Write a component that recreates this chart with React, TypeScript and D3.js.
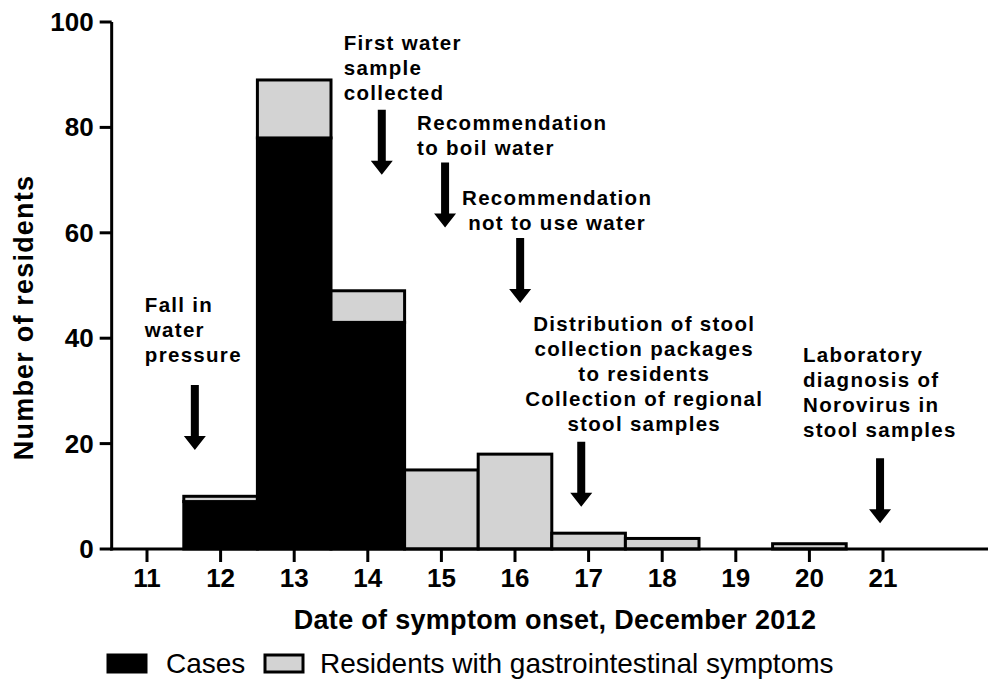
import React from "react";
import * as d3 from "d3";

// symptom onset, December 2012
const days = [11, 12, 13, 14, 15, 16, 17, 18, 19, 20, 21];
const cases = [0, 9, 78, 43, 0, 0, 0, 0, 0, 0, 0];
const residents = [0, 10, 89, 49, 15, 18, 3, 2, 0, 1, 0];
const yTicks = [0, 20, 40, 60, 80, 100];

// timeline events (date position, arrow tip value)
const eventDates = [11.65, 14.19, 15.05, 16.07, 16.9, 20.96];
const eventTips = [18.8, 71, 61, 46.7, 8, 4.9];
const eventLabels = [
  ["Fall in", "water", "pressure"],
  ["First water", "sample", "collected"],
  ["Recommendation", "to boil water"],
  ["Recommendation", "not to use water"],
  ["Distribution of stool", "collection packages", "to residents", "Collection of regional", "stool samples"],
  ["Laboratory", "diagnosis of", "Norovirus in", "stool samples"],
];
// label placement relative to arrow tail: [dx, dy of last baseline, anchor]
const labelLayout: [number, number, string][] = [
  [-50, -23, "start"],
  [-38, -10, "start"],
  [-28, -8, "start"],
  [37, -8, "middle"],
  [63, -11, "middle"],
  [-77, -21, "start"],
];

const W = 988;
const H = 682;
const font = "'Liberation Sans', Arial, sans-serif";

export default function App() {
  const x = d3.scaleLinear().domain([11, 21]).range([147, 883]);
  const y = d3.scaleLinear().domain([0, 100]).range([549, 22]);
  const step = x(12) - x(11);
  const x0 = x(10.52);

  const arrowLen = 65;
  const arrow = (cx: number, tip: number) => {
    const p = d3.path();
    const top = tip - arrowLen;
    p.moveTo(cx - 4, top);
    p.lineTo(cx + 4, top);
    p.lineTo(cx + 4, tip - 14);
    p.lineTo(cx + 11, tip - 14);
    p.lineTo(cx, tip);
    p.lineTo(cx - 11, tip - 14);
    p.lineTo(cx - 4, tip - 14);
    p.closePath();
    return p.toString();
  };

  return (
    <div style={{ position: "absolute", left: 0, top: 0 }}>
      <svg width={W} height={H} style={{ display: "block", background: "#fff" }}>
        {/* bars */}
        {days.map((d, i) => {
          if (residents[i] === 0) return null;
          const left = x(d - 0.5);
          return (
            <g key={d}>
              {cases[i] > 0 && (
                <rect x={left} y={y(cases[i])} width={step} height={y(0) - y(cases[i])}
                  fill="#000" stroke="#000" strokeWidth={3} />
              )}
              {residents[i] > cases[i] && (
                <rect x={left} y={y(residents[i])} width={step} height={y(cases[i]) - y(residents[i])}
                  fill="#d3d3d3" stroke="#000" strokeWidth={3} />
              )}
            </g>
          );
        })}

        {/* y axis */}
        <line x1={x0} x2={x0} y1={y(0) + 1.5} y2={y(100)} stroke="#000" strokeWidth={3} />
        {yTicks.map((t) => (
          <g key={t}>
            <line x1={x0 - 12} x2={x0} y1={y(t)} y2={y(t)} stroke="#000" strokeWidth={3} />
            <text x={x0 - 18} y={y(t) + 9} textAnchor="end" fontFamily={font} fontWeight="bold" fontSize={26}>
              {t}
            </text>
          </g>
        ))}
        <text transform={`translate(33,${(y(0) + y(100)) / 2 + 32}) rotate(-90)`} textAnchor="middle"
          fontFamily={font} fontWeight="bold" fontSize={27} letterSpacing={1.2}>
          Number of residents
        </text>

        {/* x axis */}
        <line x1={x0 - 1.5} x2={W} y1={y(0)} y2={y(0)} stroke="#000" strokeWidth={3} />
        {days.map((d) => (
          <g key={d}>
            <line x1={x(d)} x2={x(d)} y1={y(0)} y2={y(0) + 13} stroke="#000" strokeWidth={3} />
            <text x={x(d)} y={y(0) + 38} textAnchor="middle" fontFamily={font} fontWeight="bold" fontSize={26}>
              {d}
            </text>
          </g>
        ))}
        <text x={555} y={629} textAnchor="middle" fontFamily={font} fontWeight="bold" fontSize={27} letterSpacing={0.3}>
          Date of symptom onset, December 2012
        </text>

        {/* events */}
        {eventDates.map((d, i) => {
          const cx = x(d);
          const tip = y(eventTips[i]);
          const [dx, dy, anchor] = labelLayout[i];
          const lines = eventLabels[i];
          const lastY = tip - arrowLen + dy;
          return (
            <g key={i}>
              <path d={arrow(cx, tip)} fill="#000" />
              <text textAnchor={anchor} fontFamily={font} fontWeight="bold" fontSize={20.5} letterSpacing={1.3}>
                {lines.map((l, j) => (
                  <tspan key={j} x={cx + dx} y={lastY - (lines.length - 1 - j) * 25}>{l}</tspan>
                ))}
              </text>
            </g>
          );
        })}

        {/* legend */}
        <rect x={108} y={655} width={38} height={17} fill="#000" stroke="#000" strokeWidth={3} />
        <text x={166} y={673} fontFamily={font} fontSize={28}>Cases</text>
        <rect x={265} y={655} width={38} height={17} fill="#d3d3d3" stroke="#000" strokeWidth={3} />
        <text x={320} y={673} fontFamily={font} fontSize={28}>Residents with gastrointestinal symptoms</text>
      </svg>
    </div>
  );
}
